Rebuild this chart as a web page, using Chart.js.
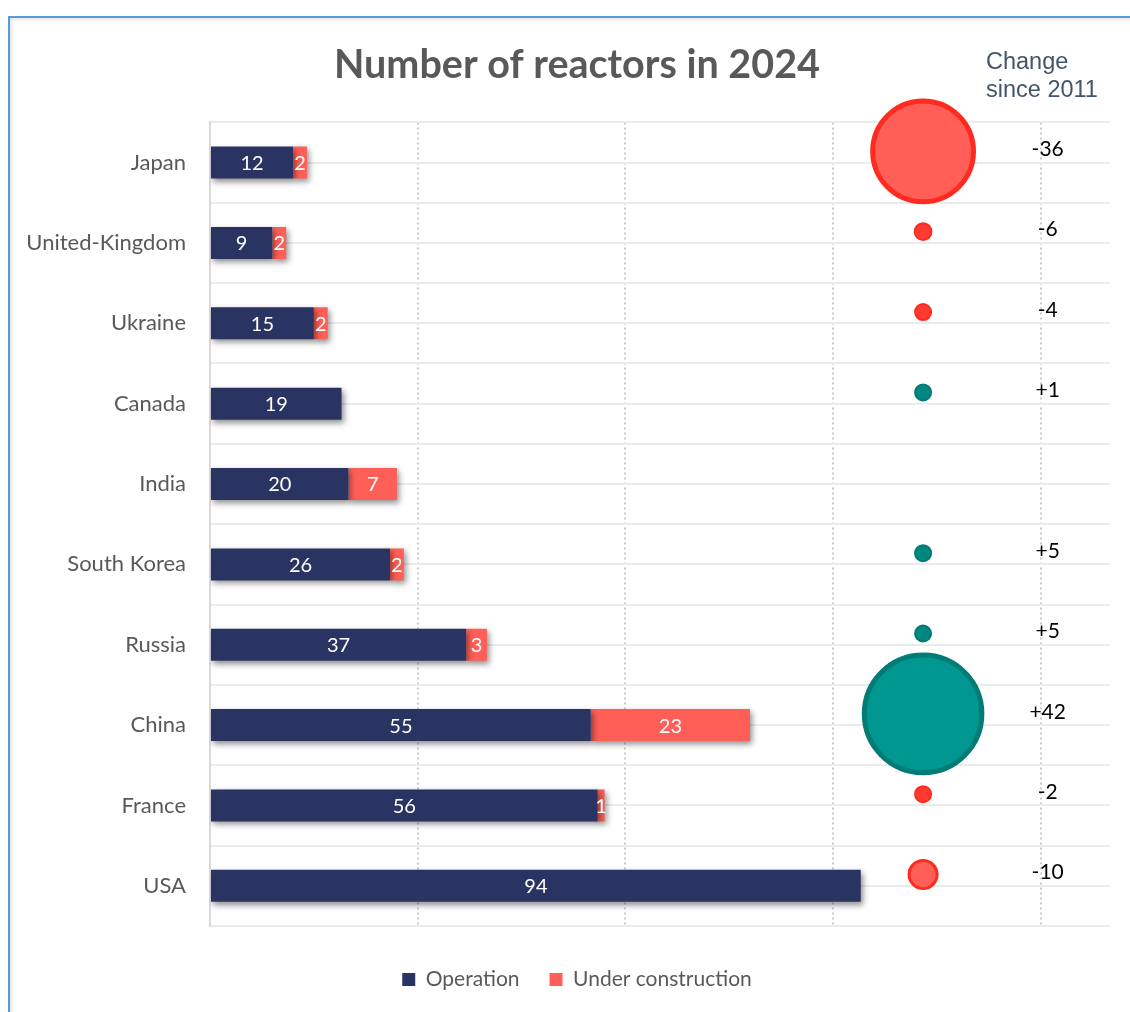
<!DOCTYPE html>
<html>
<head>
<meta charset="utf-8">
<script src="https://cdn.jsdelivr.net/npm/chart.js@4.4.1/dist/chart.umd.min.js"></script>
<style>
  html, body { margin: 0; padding: 0; background: #fff; overflow: hidden; }
  #frame {
    position: absolute; left: 8px; top: 16px; width: 1300px; height: 1200px;
    border-left: 2px solid #5b9bd5; border-top: 2px solid #5b9bd5;
    box-shadow: inset 2px 2px 3px rgba(0, 0, 0, 0.10);
  }
  #wrap { position: absolute; left: 0; top: 0; width: 1130px; height: 1012px; }
</style>
</head>
<body>
<div id="frame"></div>
<div id="wrap"><canvas id="reactorChart"></canvas></div>
<script>
// Reactor counts per country (2024) and change since 2011
const countries = ["Japan", "United-Kingdom", "Ukraine", "Canada", "India", "South Korea", "Russia", "China", "France", "USA"]
const operation = [12, 9, 15, 19, 20, 26, 37, 55, 56, 94]
const underConstruction = [2, 2, 2, 0, 7, 2, 3, 23, 1, 0]
const changeSince2011 = [-36, -6, -4, 1, 0, 5, 5, 42, -2, -10]
const xGridTicks = [0, 30, 60, 90, 120]

// where the bubble column and its labels sit on the x scale
const bubbleColumn = 103
const changeLabelColumn = 121

const font = "Lato"

function signed(v) {
  return (v > 0 ? "+" : "") + v
}

const bubbleData = changeSince2011
  .map((v, i) => ({ x: bubbleColumn, y: i, r: Math.max(8, Math.abs(v) * 1.4), change: v }))
  .filter((d) => d.change !== 0)

// drop shadow under the bars
const barShadow = {
  id: "barShadow",
  beforeDatasetDraw(chart, args) {
    if (args.meta.type !== "bar") return
    const ctx = chart.ctx
    ctx.save()
    ctx.shadowColor = "rgba(0, 0, 0, 0.45)"
    ctx.shadowBlur = 6
    ctx.shadowOffsetX = 2
    ctx.shadowOffsetY = 3
  },
  afterDatasetDraw(chart, args) {
    if (args.meta.type !== "bar") return
    chart.ctx.restore()
  },
}

// value labels in the bars, change labels and the column header
const textLabels = {
  id: "textLabels",
  afterDatasetsDraw(chart) {
    const ctx = chart.ctx
    ctx.save()
    ctx.textAlign = "center"
    ctx.textBaseline = "middle"
    ctx.font = `20px ${font}`
    ctx.fillStyle = "#ffffff"
    chart.data.datasets.forEach((ds, di) => {
      if (ds.type === "bubble") return
      chart.getDatasetMeta(di).data.forEach((bar, i) => {
        const v = ds.data[i]
        if (!v) return
        const { x, base, y } = bar.getProps(["x", "base", "y"], true)
        ctx.fillText(String(v), (x + base) / 2, y + 1)
      })
    })

    const bubbleMeta = chart.getDatasetMeta(2)
    const labelX = chart.scales.x.getPixelForValue(changeLabelColumn)
    ctx.font = `21px ${font}`
    ctx.fillStyle = "#000000"
    bubbleMeta.data.forEach((pt, i) => {
      ctx.fillText(signed(bubbleData[i].change), labelX, pt.y - 2)
    })

    ctx.textAlign = "left"
    ctx.fillStyle = "#44546a"
    ctx.font = "23.5px 'Liberation Sans'"
    ctx.fillText("Change", 986, 63)
    ctx.fillText("since 2011", 986, 91)
    ctx.restore()
  },
}

const ctx = document.getElementById("reactorChart")

new Chart(ctx, {
  type: "bar",
  data: {
    labels: countries,
    datasets: [
      {
        label: "Operation",
        data: operation,
        backgroundColor: "#2a3463",
        borderWidth: 0,
        grouped: false,
        stack: "reactors",
        maxBarThickness: 32,
        indexAxis: "y",
        xAxisID: "x",
        yAxisID: "y",
      },
      {
        label: "Under construction",
        data: underConstruction,
        backgroundColor: "#ff5f57",
        borderWidth: 0,
        grouped: false,
        stack: "reactors",
        maxBarThickness: 32,
        indexAxis: "y",
        xAxisID: "x",
        yAxisID: "y",
      },
      {
        type: "bubble",
        label: "Change since 2011",
        data: bubbleData,
        indexAxis: "x",
        xAxisID: "x",
        yAxisID: "yb",
        clip: false,
        backgroundColor: (c) => {
          const v = c.raw.change
          if (v > 0) return Math.abs(v) >= 10 ? "#009791" : "#00877f"
          return Math.abs(v) >= 10 ? "#ff5f57" : "#ff3a30"
        },
        borderColor: (c) => (c.raw.change > 0 ? "#007b76" : "#ff2a20"),
        borderWidth: (c) => (Math.abs(c.raw.change) > 20 ? 5 : Math.abs(c.raw.change) >= 10 ? 3 : 2),
      },
    ],
  },
  options: {
    indexAxis: "y",
    responsive: true,
    maintainAspectRatio: false,
    animation: false,
    layout: {
      autoPadding: false,
      padding: { left: 24, right: 0, top: 10, bottom: 12 },
    },
    scales: {
      x: {
        type: "linear",
        stacked: true,
        min: 0,
        max: 130,
        afterBuildTicks: (scale) => {
          scale.ticks = xGridTicks.map((value) => ({ value }))
        },
        afterFit: (scale) => {
          scale.height = 13
        },
        ticks: { display: false },
        border: { display: false, dash: [2, 3] },
        grid: {
          drawTicks: false,
          color: (c) => (c.tick && c.tick.value === 0 ? "transparent" : "#cccccc"),
          lineWidth: 2,
        },
      },
      y: {
        type: "category",
        stacked: true,
        position: "left",
        afterFit: (scale) => {
          scale.width = 186
        },
        grid: { display: false, drawTicks: false },
        border: { display: true, color: "#d9d9d9", width: 2 },
        ticks: {
          padding: 24,
          color: "#595959",
          font: { family: font, size: 22 },
        },
      },
      yg: {
        type: "linear",
        position: "left",
        offset: false,
        min: 0,
        max: 10,
        afterFit: (scale) => {
          scale.width = 0
        },
        ticks: { display: false, stepSize: 0.5 },
        border: { display: false },
        grid: { offset: false, drawTicks: false, color: "#ebebeb", lineWidth: 2 },
      },
      yb: {
        type: "linear",
        position: "right",
        offset: false,
        reverse: true,
        min: -0.36,
        max: 9.64,
        afterFit: (scale) => {
          scale.width = 20
        },
        ticks: { display: false },
        border: { display: false },
        grid: { display: false, offset: false, drawTicks: false },
      },
    },
    plugins: {
      title: {
        display: true,
        text: "Number of reactors in 2024",
        color: "#595959",
        font: { family: font, size: 39.5, weight: "bold" },
        padding: { top: 32, bottom: 33 },
      },
      legend: {
        position: "bottom",
        labels: {
          filter: (item) => item.datasetIndex < 2,
          boxWidth: 13,
          boxHeight: 13,
          padding: 30,
          color: "#595959",
          font: { family: font, size: 21 },
        },
      },
      tooltip: { enabled: false },
    },
  },
  plugins: [barShadow, textLabels],
})
</script>
</body>
</html>
